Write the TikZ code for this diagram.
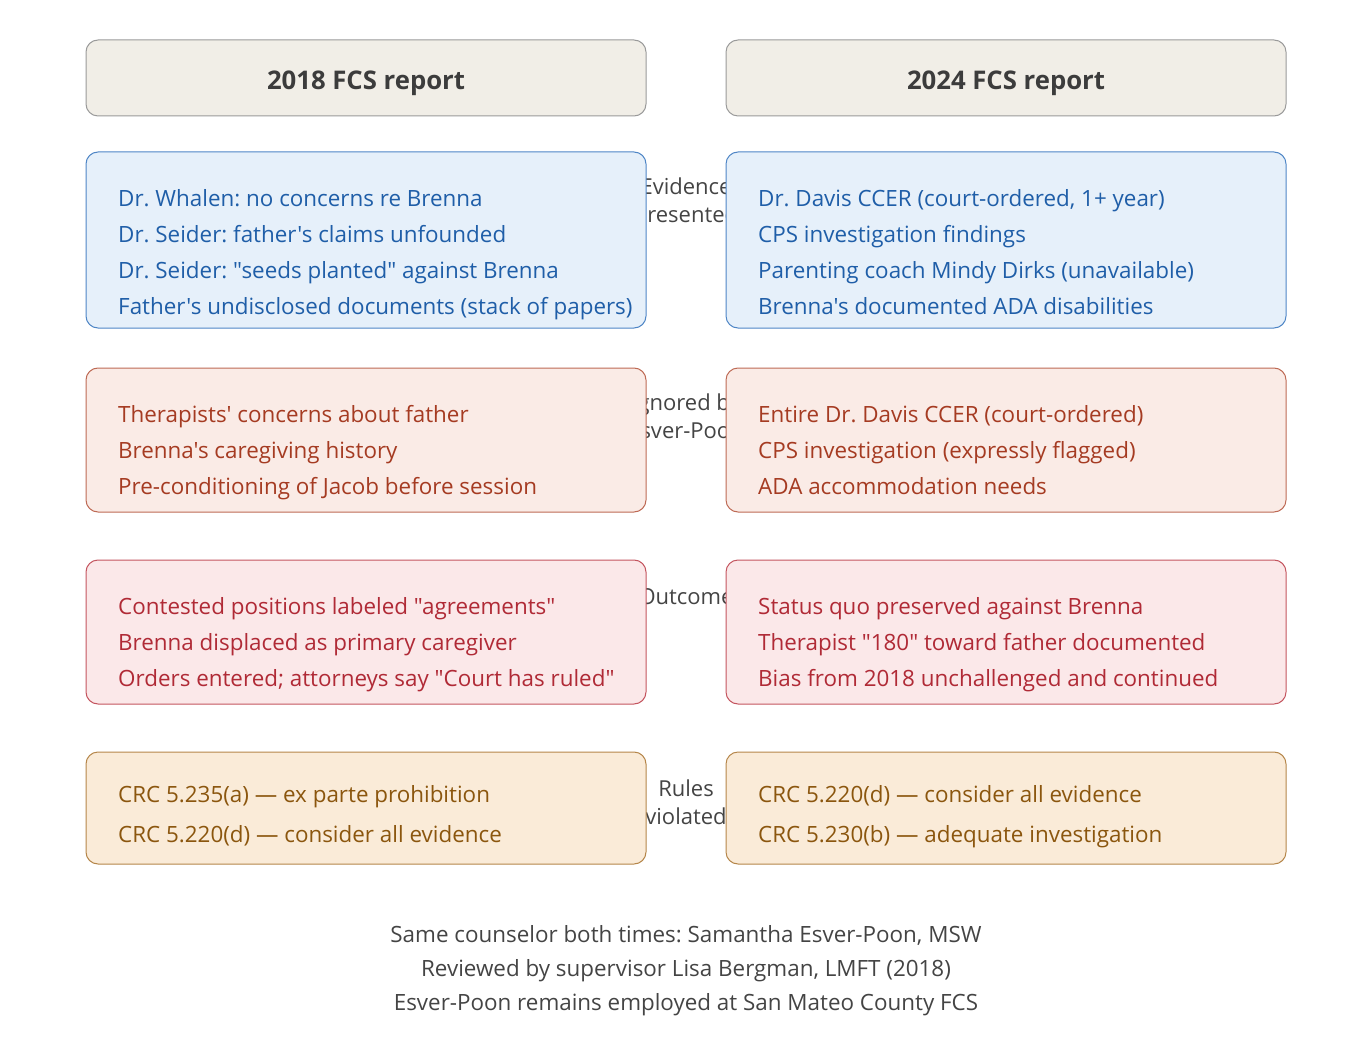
\documentclass[tikz,border=0pt]{standalone}
\usepackage{fontspec}
\setmainfont{Open Sans}[Ligatures=TeXOff]
\frenchspacing
\definecolor{hdfill}{HTML}{F1EEE7}
\definecolor{hddraw}{HTML}{9A9A9A}
\definecolor{hdtext}{HTML}{3C3C3C}
\definecolor{evfill}{HTML}{E6F0FA}
\definecolor{evdraw}{HTML}{4F86C6}
\definecolor{evtext}{HTML}{1F5EA8}
\definecolor{igfill}{HTML}{FAEBE6}
\definecolor{igdraw}{HTML}{BE6A55}
\definecolor{igtext}{HTML}{A53B22}
\definecolor{oufill}{HTML}{FBE8E9}
\definecolor{oudraw}{HTML}{C4555F}
\definecolor{outext}{HTML}{B02A36}
\definecolor{rufill}{HTML}{FAEBD8}
\definecolor{rudraw}{HTML}{B5864A}
\definecolor{rutext}{HTML}{8B560E}
\definecolor{midtext}{HTML}{444444}
\tikzset{
  box/.style={draw, line width=1pt, rounded corners=12pt, inner sep=0pt, minimum width=560pt},
  hdbox/.style={box, fill=hdfill, draw=hddraw, minimum height=76pt},
  line/.style={anchor=base west, inner sep=0pt, font=\fontsize{22.4}{26}\selectfont\frenchspacing},
  midlbl/.style={anchor=base, text=midtext, inner sep=0pt, font=\fontsize{22}{26}\selectfont},
  foot/.style={anchor=base, text=midtext, inner sep=0pt, font=\fontsize{22.4}{26}\selectfont\frenchspacing},
  hdtxt/.style={anchor=base, text=hdtext, inner sep=0pt, font=\fontsize{25.7}{30}\selectfont\bfseries},
}
\begin{document}
\begin{tikzpicture}[x=1pt,y=-1pt]
\useasboundingbox (0,0) rectangle (1372,1040);
% middle labels (partially covered by boxes)
\node[midlbl] (m1a) at (686,195) {Evidence};
\node[midlbl] (m1b) at (686,223) {presented};
\node[midlbl] (m2a) at (686,410) {Ignored by};
\node[midlbl] (m2b) at (686,438) {Esver-Poon};
\node[midlbl] (m3) at (686,604) {Outcome};
\node[midlbl] (m4a) at (686,796) {Rules};
\node[midlbl] (m4b) at (686,824) {violated};
% headers
\node[hdbox] (h1) at (366,78) {};
\node[hdbox] (h2) at (1006,78) {};
\node[hdtxt] (h1t) at (366,90) {2018 FCS report};
\node[hdtxt] (h2t) at (1006,90) {2024 FCS report};
% evidence
\node[box, fill=evfill, draw=evdraw, minimum height=176pt] (e1) at (366,240) {};
\node[box, fill=evfill, draw=evdraw, minimum height=176pt] (e2) at (1006,240) {};
\begin{scope}[every node/.style={line, text=evtext}]
\node (e1a) at (118,207) {Dr. Whalen: no concerns re Brenna};
\node (e1b) at (118,243) {Dr. Seider: father's claims unfounded};
\node (e1c) at (118,279) {Dr. Seider: "seeds planted" against Brenna};
\node (e1d) at (118,315) {Father's undisclosed documents (stack of papers)};
\node (e2a) at (758,207) {Dr. Davis CCER (court-ordered, 1+ year)};
\node (e2b) at (758,243) {CPS investigation findings};
\node (e2c) at (758,279) {Parenting coach Mindy Dirks (unavailable)};
\node (e2d) at (758,315) {Brenna's documented ADA disabilities};
\end{scope}
% ignored
\node[box, fill=igfill, draw=igdraw, minimum height=144pt] (i1) at (366,440) {};
\node[box, fill=igfill, draw=igdraw, minimum height=144pt] (i2) at (1006,440) {};
\begin{scope}[every node/.style={line, text=igtext}]
\node (i1a) at (118,422) {Therapists' concerns about father};
\node (i1b) at (118,458) {Brenna's caregiving history};
\node (i1c) at (118,494) {Pre-conditioning of Jacob before session};
\node (i2a) at (758,422) {Entire Dr. Davis CCER (court-ordered)};
\node (i2b) at (758,458) {CPS investigation (expressly flagged)};
\node (i2c) at (758,494) {ADA accommodation needs};
\end{scope}
% outcome
\node[box, fill=oufill, draw=oudraw, minimum height=144pt] (o1) at (366,632) {};
\node[box, fill=oufill, draw=oudraw, minimum height=144pt] (o2) at (1006,632) {};
\begin{scope}[every node/.style={line, text=outext}]
\node (o1a) at (118,614) {Contested positions labeled "agreements"};
\node (o1b) at (118,650) {Brenna displaced as primary caregiver};
\node (o1c) at (118,686) {Orders entered; attorneys say "Court has ruled"};
\node (o2a) at (758,614) {Status quo preserved against Brenna};
\node (o2b) at (758,650) {Therapist "180" toward father documented};
\node (o2c) at (758,686) {Bias from 2018 unchallenged and continued};
\end{scope}
% rules
\node[box, fill=rufill, draw=rudraw, minimum height=112pt] (r1) at (366,808) {};
\node[box, fill=rufill, draw=rudraw, minimum height=112pt] (r2) at (1006,808) {};
\begin{scope}[every node/.style={line, text=rutext}]
\node (r1a) at (118,802) {CRC 5.235(a) — ex parte prohibition};
\node (r1b) at (118,842) {CRC 5.220(d) — consider all evidence};
\node (r2a) at (758,802) {CRC 5.220(d) — consider all evidence};
\node (r2b) at (758,842) {CRC 5.230(b) — adequate investigation};
\end{scope}
% footer
\node[foot] (f1) at (686,942) {Same counselor both times: Samantha Esver-Poon, MSW};
\node[foot] (f2) at (686,976) {Reviewed by supervisor Lisa Bergman, LMFT (2018)};
\node[foot] (f3) at (686,1010) {Esver-Poon remains employed at San Mateo County FCS};
\end{tikzpicture}
\end{document}
